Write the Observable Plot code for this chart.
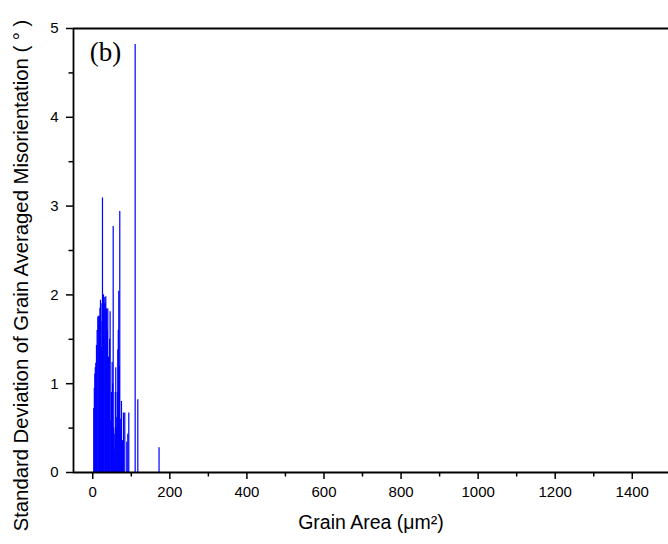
<!DOCTYPE html>
<html>
<head>
<meta charset="utf-8">
<script src="https://cdn.jsdelivr.net/npm/d3@7"></script>
<script src="https://cdn.jsdelivr.net/npm/@observablehq/plot@0.6"></script>
<style>
  html, body { margin: 0; padding: 0; background: #fff; }
  svg { display: block; }
</style>
</head>
<body>
<div id="chart"></div>
<script>
// Grain area (µm²) of each grain
const grainArea = [2.6, 4.0, 5.3, 6.6, 7.9, 9.6, 11.3, 13.0, 15.2, 17.4, 18.7, 20.0, 21.3, 22.6, 23.9,
  25.2, 26.5, 27.8, 29.5, 31.2, 32.5, 33.8, 35.1, 36.4, 37.7, 39.0, 40.7, 42.5, 43.8, 45.0,
  46.8, 48.5, 50.3, 51.6, 53.0, 54.3, 55.6, 57.1, 58.4, 59.7, 61.0, 62.3, 63.6, 65.0, 66.2,
  67.5, 68.8, 70.1, 71.4, 72.7, 74.5, 75.8, 77.1, 79.7, 83.1, 88.3, 90.9, 93.5, 110, 116.9, 172];
// Standard deviation of grain averaged misorientation (°)
const stdDev = [0.72, 0.95, 1.11, 1.18, 1.23, 1.43, 1.6, 1.75, 1.76, 1.76, 1.85, 1.94, 1.7, 1.41, 1.9,
  3.09, 2.0, 2.0, 1.9, 1.97, 1.9, 1.98, 1.84, 1.84, 1.6, 1.84, 1.3, 1.03, 1.5, 1.81,
  0.58, 0.9, 1.24, 1.0, 2.77, 0.5, 0.43, 0.26, 0.9, 1.18, 0.5, 0.62, 0.9, 1.38, 1.6,
  2.04, 1.2, 2.94, 0.6, 0.49, 0.80, 0.3, 0.36, 0.67, 0.67, 0.34, 0.43, 0.67, 4.82, 0.82, 0.28];

const xMajorTicks = [0, 200, 400, 600, 800, 1000, 1200, 1400];
const xMinorTicks = [100, 300, 500, 700, 900, 1100, 1300];
const yMajorTicks = [0, 1, 2, 3, 4, 5];
const yMinorTicks = [0.5, 1.5, 2.5, 3.5, 4.5];
const xDomain = [-50, 1494];
const yDomain = [0, 5];

const xTitle = "Grain Area (μm²)";
const yTitle = "Standard Deviation of Grain Averaged Misorientation ( ° )";
const panelLabel = "(b)";

const chart = Plot.plot({
  width: 668,
  height: 544,
  marginLeft: 73,
  marginRight: 0,
  marginTop: 28,
  marginBottom: 72,
  style: {fontFamily: "'Liberation Sans', Arial, sans-serif", fontSize: "15px", color: "#000", background: "#fff"},
  x: {domain: xDomain},
  y: {domain: yDomain},
  marks: [
    Plot.ruleX(grainArea, {x: grainArea, y1: 0, y2: stdDev, stroke: "#0000ff", strokeWidth: 1.2}),
    Plot.axisX(xMajorTicks, {tickSize: 7, tickPadding: 7, label: null, tickFormat: d => String(d), stroke: "#000", strokeWidth: 1.5}),
    Plot.axisX(xMinorTicks, {tickSize: 4.5, text: null, label: null, stroke: "#000", strokeWidth: 1.5}),
    Plot.axisY(yMajorTicks, {tickSize: 7, tickPadding: 8, label: null, tickFormat: d => String(d), stroke: "#000", strokeWidth: 1.5}),
    Plot.axisY(yMinorTicks, {tickSize: 4.5, text: null, label: null, stroke: "#000", strokeWidth: 1.5}),
    Plot.ruleY([0], {stroke: "#000", strokeWidth: 1.8}),
    Plot.ruleY([5], {stroke: "#000", strokeWidth: 1.8}),
    Plot.ruleX([xDomain[0]], {stroke: "#000", strokeWidth: 1.8}),
    Plot.text([panelLabel], {frameAnchor: "top-left", dx: 32, dy: 24, textAnchor: "middle", lineAnchor: "middle",
      fontFamily: "'Liberation Serif', 'Times New Roman', serif", fontSize: 27, fill: "#000"}),
    Plot.text([xTitle], {frameAnchor: "bottom", dy: 50, textAnchor: "middle", lineAnchor: "middle", fontSize: 19.5, fill: "#000"}),
    Plot.text([yTitle], {frameAnchor: "left", dx: -52, dy: 25, rotate: -90, textAnchor: "middle", lineAnchor: "middle", fontSize: 20.3, fill: "#000"})
  ]
});
document.getElementById("chart").append(chart);
</script>
</body>
</html>
